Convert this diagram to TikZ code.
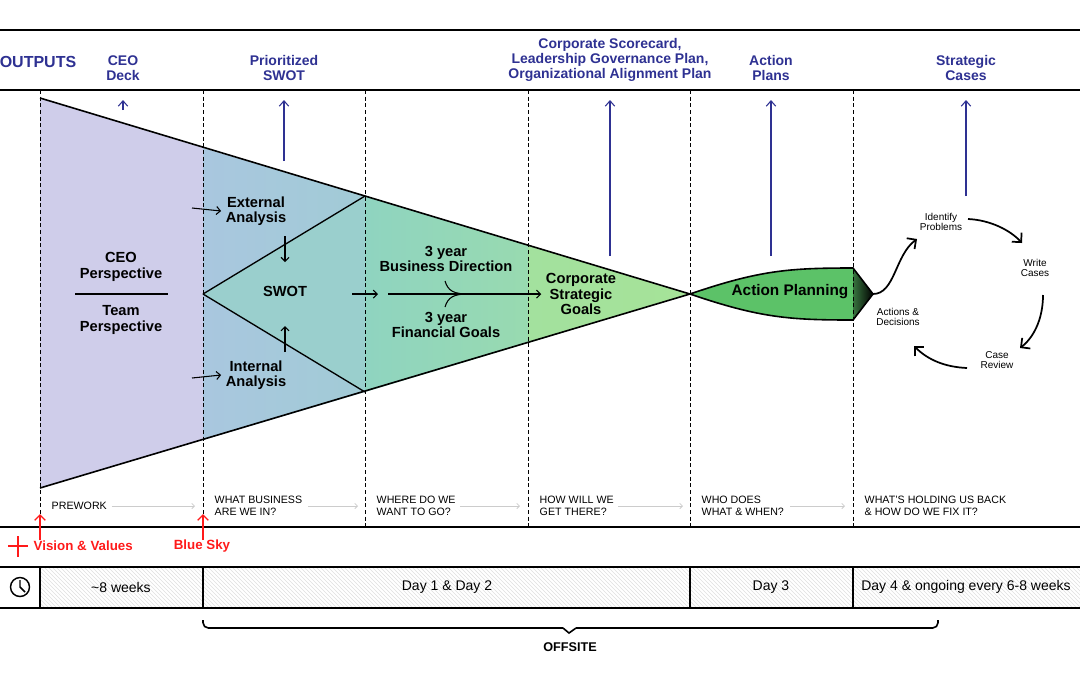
\documentclass[tikz,border=0pt]{standalone}
\usepackage{fontspec}
\setmainfont{Liberation Sans}
\usetikzlibrary{arrows.meta,patterns,decorations.pathreplacing}
\definecolor{navy}{HTML}{2E3192}
\definecolor{lav}{HTML}{CFCDEA}
\definecolor{lblue}{HTML}{A9C7DF}
\definecolor{teal1}{HTML}{8FD4C0}
\definecolor{lgreen}{HTML}{A6E398}
\definecolor{green1}{HTML}{5CC268}
\definecolor{red1}{HTML}{FF1A1A}
\begin{document}
\begin{tikzpicture}[x=0.75pt,y=-0.75pt,
  hdr/.style={font=\bfseries\fontsize{10.5}{11}\selectfont,text=navy,align=center},
  lab/.style={font=\bfseries\fontsize{11}{11.5}\selectfont,align=center},
  sm/.style={font=\fontsize{8}{9}\selectfont,align=left,anchor=west},
  cyc/.style={font=\fontsize{7.5}{8}\selectfont,align=center},
  tl/.style={font=\fontsize{10.5}{11}\selectfont},
  bar/.style={line width=1.6pt},
  dsh/.style={densely dashed,line width=0.7pt},
  up/.style={navy,line width=0.8pt,-{Straight Barb[length=4pt,width=7pt]}},
  ar/.style={line width=0.8pt,-{Straight Barb[length=3pt,width=6pt]}},
  gar/.style={gray!40,line width=0.6pt,-{Straight Barb[length=2pt,width=4pt]}},
  ca/.style={line width=1.3pt,-{Straight Barb[length=5pt,width=10pt]}}]
\useasboundingbox (0,0) rectangle (1080,687);
% funnel fills
\fill[lav] (40,98) -- (203,148) -- (203,440) -- (40,488) -- cycle;
\shade[left color=lblue,right color=lblue!70!teal1] (203,148) -- (365,196) -- (365,392) -- (203,440) -- cycle;
\fill[teal1!60!lblue] (203,294) -- (365,196) -- (365,392) -- cycle;
\shade[left color=teal1,right color=teal1!60!lgreen] (365,196) -- (528,245) -- (528,343) -- (365,392) -- cycle;
\shade[left color=lgreen!85!teal1,right color=lgreen] (528,245) -- (690,294) -- (528,343) -- cycle;
\draw[line width=1.2pt] (40,98) -- (690,294) -- (40,488);
\draw[line width=1pt] (203,294) -- (365,196) (203,294) -- (365,392);
% action planning
\fill[green1] (690,294) .. controls (760,270) and (790,268) .. (853,268) -- (853,320) .. controls (790,320) and (760,318) .. (690,294) -- cycle;
\shade[left color=green1!60!black,right color=black] (853,268) -- (873,294) -- (853,320) -- cycle;
\draw[line width=1.2pt] (690,294) .. controls (760,270) and (790,268) .. (853,268) -- (873,294) -- (853,320) .. controls (790,320) and (760,318) .. (690,294);
% frame lines
\draw[bar] (0,30) -- (1080,30);
\draw[bar] (0,90) -- (1080,90);
\foreach \x in {40,203,365,528,690,853} \draw[dsh] (\x,90) -- (\x,527);
% hatched timeline
\fill[pattern=north west lines,pattern color=gray!25] (40,567) rectangle (1080,608);
\draw[bar] (0,527) -- (1080,527);
\draw[bar] (0,567) -- (1080,567);
\draw[bar] (0,608) -- (1080,608);
\foreach \x in {40,203,690,853} \draw[line width=1pt] (\x,567) -- (\x,608);
% clock
\draw[line width=1.1pt] (20,587) circle (9.5);
\draw[line width=1.1pt] (20,580) -- (20,587) -- (25,592);
\node[tl] (t1) at (121,587) {\textasciitilde8 weeks};
\node[tl] (t2) at (447,587) {Day 1 \& Day 2};
\node[tl] (t3) at (771,587) {Day 3};
\node[tl] (t4) at (966,587) {Day 4 \& ongoing every 6-8 weeks};
% brace
\draw[line width=1.2pt,rounded corners=4pt] (203,620) -- (203,628) -- (563,628);
\draw[line width=1.2pt,rounded corners=4pt] (938,620) -- (938,628) -- (576,628);
\draw[line width=1.2pt] (563,628) -- (569,633) -- (576,628);
\node[font=\bfseries\fontsize{9.5}{10}\selectfont] (off) at (570,647) {OFFSITE};
% headers
\node[font=\bfseries\fontsize{12}{12}\selectfont,text=navy] (out) at (38,62) {OUTPUTS};
\node[hdr] (h1) at (123,68) {CEO\\Deck};
\node[hdr] (h2) at (284,68) {Prioritized\\SWOT};
\node[hdr] (h3) at (610,60) {Corporate Scorecard,\\Leadership Governance Plan,\\Organizational Alignment Plan};
\node[hdr] (h4) at (771,68) {Action\\Plans};
\node[hdr] (h5) at (966,68) {Strategic\\Cases};
\coordinate (u1) at (123,110); \coordinate (u2) at (284,161); \coordinate (u3) at (610,256);
\coordinate (u4) at (771,256); \coordinate (u5) at (966,196);
\draw[up] (u1) -- (123,100);
\draw[up] (u2) -- (284,100);
\draw[up] (u3) -- (610,100);
\draw[up] (u4) -- (771,100);
\draw[up] (u5) -- (966,100);
% funnel labels
\node[lab] (ceo) at (121,267) {CEO\\Perspective};
\node[lab] (team) at (121,320) {Team\\Perspective};
\draw[line width=1pt] (75,294) -- (168,294);
\node[lab] (ext) at (256,211) {External\\Analysis};
\node[lab] (swot) at (285,291) {SWOT};
\node[lab] (int) at (256,375) {Internal\\Analysis};
\node[lab] (bd) at (446,259) {3 year\\Business Direction};
\node[lab] (fg) at (446,325) {3 year\\Financial Goals};
\node[lab] (csg) at (581,294) {Corporate\\Strategic\\Goals};
\node[font=\bfseries\fontsize{11.5}{12}\selectfont] (ap) at (790,292) {Action Planning};
\coordinate (e1) at (192,208); \coordinate (e2) at (192,378);
\draw[ar] (e1) -- (ext.west);
\draw[ar] (e2) -- (int.west);
\draw[ar] (285,236) -- (285,262);
\draw[ar] (285,352) -- (285,326);
\draw[ar] (352,294) -- (378,294);
\draw[ar] (388,294) -- (csg.west);
\draw[line width=0.8pt] (445,281) .. controls (448,291) and (454,294) .. (468,294);
\draw[line width=0.8pt] (445,307) .. controls (448,297) and (454,294) .. (468,294);
% bottom labels
\node[sm] (b1) at (47,506) {PREWORK};
\node[sm] (b2) at (210,506) {WHAT BUSINESS\\ARE WE IN?};
\node[sm] (b3) at (372,506) {WHERE DO WE\\WANT TO GO?};
\node[sm] (b4) at (535,506) {HOW WILL WE\\GET THERE?};
\node[sm] (b5) at (697,506) {WHO DOES\\WHAT \& WHEN?};
\node[sm] (b6) at (860,506) {WHAT'S HOLDING US BACK\\\& HOW DO WE FIX IT?};
\draw[gar] (b1.east) -- (195,506);
\draw[gar] (308,506) -- (358,506);
\draw[gar] (460,506) -- (520,506);
\draw[gar] (618,506) -- (683,506);
\draw[gar] (790,506) -- (845,506);
% red
\coordinate (r1) at (40,540); \coordinate (r2) at (203,540);
\draw[red1,line width=1pt,-{Straight Barb[length=4pt,width=8pt]}] (r1) -- (40,514);
\draw[red1,line width=1pt,-{Straight Barb[length=4pt,width=8pt]}] (r2) -- (203,514);
\draw[red1,line width=2.2pt] (8,546) -- (28,546) (18,536) -- (18,557);
\node[font=\bfseries\fontsize{10}{10}\selectfont,text=red1,anchor=west] (vv) at (29,546) {Vision \& Values};
\node[font=\bfseries\fontsize{10}{10}\selectfont,text=red1] (bs) at (202,546) {Blue Sky};
% cycle
\node[cyc] (ip) at (941,222) {Identify\\Problems};
\node[cyc] (wc) at (1035,268) {Write\\Cases};
\node[cyc] (cr) at (997,360) {Case\\Review};
\node[cyc] (ad) at (898,317) {Actions \&\\Decisions};
\coordinate (tip) at (873,294);
\draw[ca] (tip) .. controls (895,294) and (895,255) .. (917,239);
\draw[ca] (968,219) .. controls (990,220) and (1010,230) .. (1022,243);
\draw[ca] (1043,295) .. controls (1043,320) and (1033,338) .. (1020,348);
\draw[ca] (967,368) .. controls (945,367) and (928,360) .. (914,346);
\end{tikzpicture}
\end{document}
